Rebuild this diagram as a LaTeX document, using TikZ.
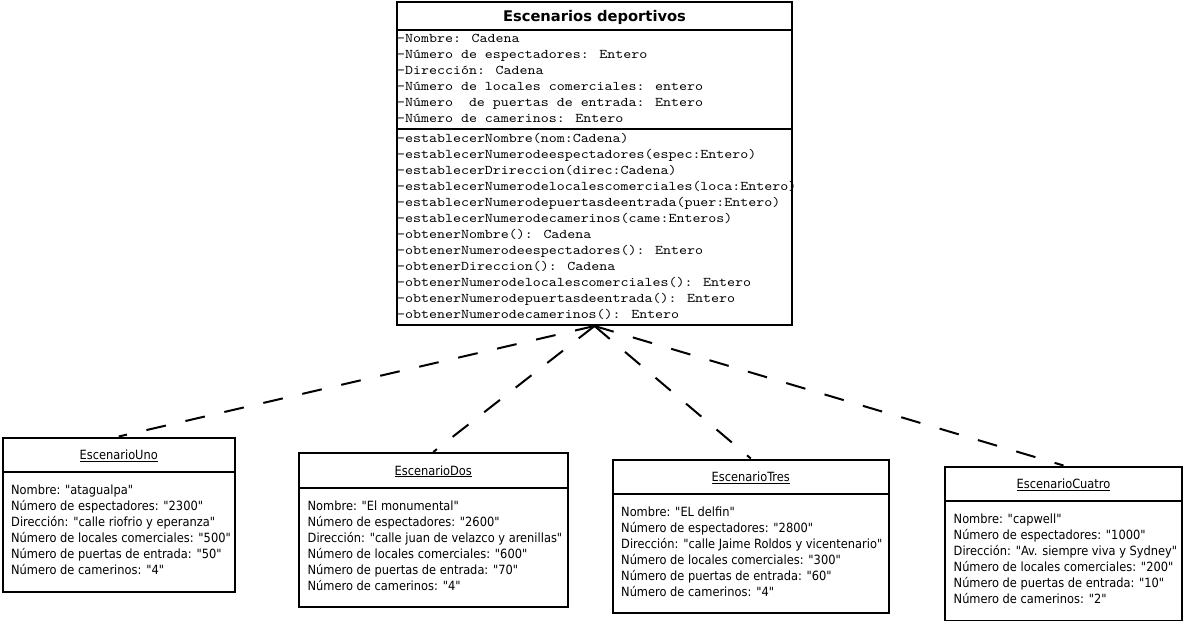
\documentclass[tikz,border=0pt]{standalone}
\usepackage{fontspec}
\setmainfont{DejaVu Sans}[Ligatures=TeXOff]
\newfontfamily\condfont{DejaVu Sans Condensed}[Ligatures=TeXOff]
\newfontfamily\codfont{lmmono10-regular.otf}[FakeStretch=1.143]
\usetikzlibrary{calc, positioning}
\tikzset{
    caja/.style={draw, line width=2pt, inner sep=0pt, anchor=north west},
    raya/.style={line width=2pt},
    depende/.style={line width=2pt, dash pattern=on 20pt off 20pt},
    codigo/.style={anchor=base west, inner sep=0pt, font=\codfont\fontsize{13.3}{16}\selectfont},
    dato/.style={anchor=base west, inner sep=0pt, font=\condfont\fontsize{12.7}{16}\selectfont},
    nombre/.style={anchor=base, inner sep=0pt, font=\condfont\fontsize{12.7}{16}\selectfont}
}

\begin{document}
\begin{tikzpicture}[x=1pt, y=-1pt]
    \useasboundingbox (0,0) rectangle (1184,621);
    % clase
    \node[caja, minimum width=395pt, minimum height=323pt] (clase) at (396,1) {};
    \draw[raya] ([yshift=-28.5pt]clase.north west) -- ([yshift=-28.5pt]clase.north east);
    \draw[raya] ([yshift=-128pt]clase.north west) -- ([yshift=-128pt]clase.north east);
    \node[anchor=base, inner sep=0pt, font=\bfseries\fontsize{14.7}{17}\selectfont] (clase-t) at ([yshift=-20.5pt]clase.north) {Escenarios deportivos};
    \foreach \t [count=\i] in {-Nombre: Cadena, -Número de espectadores: Entero, -Dirección: Cadena,
        -Número de locales comerciales: entero, -Número\ \ de puertas de entrada: Entero, -Número de camerinos: Entero}
        \node[codigo] (atr-\i) at (397, 26+16*\i) {\t};
    \foreach \t [count=\i] in {-establecerNombre(nom:Cadena), -establecerNumerodeespectadores(espec:Entero),
        -establecerDrireccion(direc:Cadena), -establecerNumerodelocalescomerciales(loca:Entero),
        -establecerNumerodepuertasdeentrada(puer:Entero), -establecerNumerodecamerinos(came:Enteros),
        -obtenerNombre(): Cadena, -obtenerNumerodeespectadores(): Entero, -obtenerDireccion(): Cadena,
        -obtenerNumerodelocalescomerciales(): Entero, -obtenerNumerodepuertasdeentrada(): Entero,
        -obtenerNumerodecamerinos(): Entero}
        \node[codigo] (met-\i) at (397, 126.5+16*\i) {\t};

    % objetos
    \node[caja, minimum width=232.5pt, minimum height=154.5pt] (uno) at (1.5,436.5) {};
    \draw[raya] ([yshift=-35.5pt]uno.north west) -- ([yshift=-35.5pt]uno.north east);
    \node[nombre] (uno-t) at ([yshift=-23pt]uno.north) {\underline{EscenarioUno}};
    \foreach \t [count=\i] in {Nombre: "atagualpa", Número de espectadores: "2300", Dirección: "calle riofrio y eperanza",
        Número de locales comerciales: "500", Número de puertas de entrada: "50", Número de camerinos: "4"}
        \node[dato] (uno-\i) at ([xshift=9.5pt, yshift={-42-16*\i}]uno.north west) {\t};

    \node[caja, minimum width=268.5pt, minimum height=153.5pt] (dos) at (298,452) {};
    \draw[raya] ([yshift=-35.5pt]dos.north west) -- ([yshift=-35.5pt]dos.north east);
    \node[nombre] (dos-t) at ([yshift=-23pt]dos.north) {\underline{EscenarioDos}};
    \foreach \t [count=\i] in {Nombre: "El monumental", Número de espectadores: "2600", Dirección: "calle juan de velazco y arenillas",
        Número de locales comerciales: "600", Número de puertas de entrada: "70", Número de camerinos: "4"}
        \node[dato] (dos-\i) at ([xshift=9.5pt, yshift={-42-16*\i}]dos.north west) {\t};

    \node[caja, minimum width=276.5pt, minimum height=153.5pt] (tres) at (611.5,458.5) {};
    \draw[raya] ([yshift=-35.5pt]tres.north west) -- ([yshift=-35.5pt]tres.north east);
    \node[nombre] (tres-t) at ([yshift=-23pt]tres.north) {\underline{EscenarioTres}};
    \foreach \t [count=\i] in {Nombre: "EL delfin", Número de espectadores: "2800", Dirección: "calle Jaime Roldos y vicentenario",
        Número de locales comerciales: "300", Número de puertas de entrada: "60", Número de camerinos: "4"}
        \node[dato] (tres-\i) at ([xshift=9.5pt, yshift={-42-16*\i}]tres.north west) {\t};

    \node[caja, minimum width=237pt, minimum height=154pt] (cuatro) at (944,465.5) {};
    \draw[raya] ([yshift=-35.5pt]cuatro.north west) -- ([yshift=-35.5pt]cuatro.north east);
    \node[nombre] (cuatro-t) at ([yshift=-23pt]cuatro.north) {\underline{EscenarioCuatro}};
    \foreach \t [count=\i] in {Nombre: "capwell", Número de espectadores: "1000", Dirección: "Av. siempre viva y Sydney",
        Número de locales comerciales: "200", Número de puertas de entrada: "10", Número de camerinos: "2"}
        \node[dato] (cuatro-\i) at ([xshift=9.5pt, yshift={-42-16*\i}]cuatro.north west) {\t};

    % dependencias
    \foreach \o in {uno, dos, tres, cuatro}
        \draw[depende] (clase.south) -- (\o.north);
\end{tikzpicture}
\end{document}
